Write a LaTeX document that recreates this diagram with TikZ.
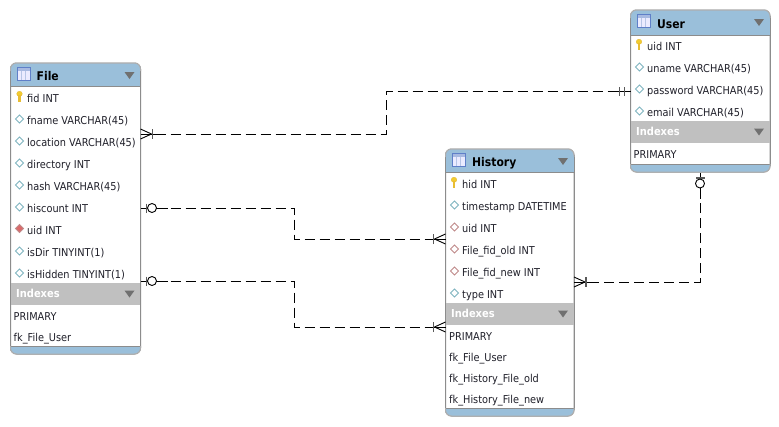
\documentclass[tikz,border=0pt]{standalone}
\usepackage{fontspec}
\setmainfont[FakeStretch=0.9]{DejaVu Sans}
\definecolor{hdr}{HTML}{9ABFDA}
\definecolor{edge}{HTML}{8C8C8C}
\definecolor{band}{HTML}{C0C0C0}
\definecolor{tri}{HTML}{707070}
\definecolor{txt}{HTML}{20202A}
\definecolor{iconblue}{HTML}{5F7FC8}
\definecolor{teal}{HTML}{7FB4C0}
\definecolor{rosy}{HTML}{C08A8A}
\definecolor{redfill}{HTML}{DB6A6A}
\definecolor{keyy}{HTML}{F2CC30}
\tikzset{
  x=1pt,y=-1pt,
  tablebody/.style={draw=edge,fill=white,line width=1pt,rounded corners=6pt,inner sep=0pt,outer sep=0pt},
  rowtext/.style={anchor=base west,inner sep=0pt,text=txt,font=\fontsize{10.85}{12}\selectfont},
  titletext/.style={anchor=base west,inner sep=0pt,text=black,font=\fontsize{12}{14}\selectfont\bfseries},
  indextext/.style={anchor=base west,inner sep=0pt,text=white,font=\fontsize{11}{13}\selectfont\bfseries},
  conn/.style={draw=black,line width=0.9pt,dash pattern=on 10pt off 5pt},
  sym/.style={draw=black,line width=0.9pt},
  bar/.style={draw=black!65,line width=1.3pt},
  crowfoot/.pic={
    \draw[sym] (0,-5)--(11,0)--(0,5);
    \draw[sym] (0,0)--(20,0);
    \draw[bar] (12,-5)--(12,5);
  },
  onetwo/.pic={
    \draw[sym] (0,0)--(18,0);
    \draw[bar] (6,-4.5)--(6,4.5);
    \draw[bar] (11,-4.5)--(11,4.5);
  },
  zeroone/.pic={
    \draw[sym] (2,0)--(27,0);
    \draw[bar] (6,-4.5)--(6,4.5);
    \draw[sym,fill=white] (11.5,0) circle (4.5);
  },
  keyicon/.pic={
    \fill[keyy,draw=keyy!70!brown,line width=0.3pt] (0,-3.2) ellipse (2.8 and 2.6);
    \fill[keyy!80!brown] (-1.2,-2)--(1.2,-2)--(1.2,4.5)--(-1.2,4.5)--cycle;
  },
  plaindiamond/.pic={\draw[teal,fill=white,line width=0.8pt] (-4,0)--(0,-4)--(4,0)--(0,4)--cycle;},
  fkdiamond/.pic={\draw[rosy,fill=white,line width=0.8pt] (-4,0)--(0,-4)--(4,0)--(0,4)--cycle;},
  fkfilled/.pic={\draw[rosy,fill=redfill,line width=0.8pt] (-4,0)--(0,-4)--(4,0)--(0,4)--cycle;},
  tableicon/.pic={
    \draw[iconblue,fill=blue!8,line width=0.9pt] (0,0) rectangle (13,13);
    \fill[iconblue!55] (0.5,0.5) rectangle (12.5,3);
    \draw[iconblue!45,line width=0.6pt] (4.3,3)--(4.3,12.5) (8.6,3)--(8.6,12.5);
  },
  downtri/.pic={\fill[tri] (-5,-3.5)--(5,-3.5)--(0,3.5)--cycle;},
}
% name, x0, x1, top, header bottom, index top, index bottom, strip top, bottom
\newcommand{\erbox}[9]{%
  \node[tablebody,minimum width=#3pt-#2pt,minimum height=#9pt-#4pt,anchor=north west] (#1) at (#2,#4) {};
  \fill[hdr] (#2,#5) [rounded corners=6pt] -- (#2,#4) -- (#3,#4) [sharp corners] -- (#3,#5) -- cycle;
  \fill[hdr] (#2,#8) [rounded corners=6pt] -- (#2,#9) -- (#3,#9) [sharp corners] -- (#3,#8) -- cycle;
  \fill[band] (#2,#6) rectangle (#3,#7);
  \draw[edge,line width=1pt] (#2,#5)--(#3,#5) (#2,#8)--(#3,#8) (#2,#4+6)--(#2,#9-6) (#3,#4+6)--(#3,#9-6);
  \draw[edge!70,line width=1pt,rounded corners=6pt] (#2,#4+8)--(#2,#4)--(#3,#4)--(#3,#4+8);
  \draw[edge!70,line width=1pt,rounded corners=6pt] (#2,#9-8)--(#2,#9)--(#3,#9)--(#3,#9-8);
  \pic at (#2+6.5,#4+4.5) {tableicon};
  \pic at (#3-11,#4+12.5) {downtri};
  \pic at (#3-11,{(#6+#7)/2}) {downtri};
  \node[indextext] (#1-indexes) at (#2+5.5,#7-7.5) {Indexes};
}
\begin{document}
\begin{tikzpicture}
\useasboundingbox (0,0) rectangle (779,426);
\fill[white] (0,0) rectangle (779,426);

%% File
\erbox{file}{10.5}{140.5}{63}{86}{283}{305}{346}{354}
\node[titletext] (file-title) at (36.5,80) {File};
\pic at (19.5,97) {keyicon};
\pic at (19.5,119) {plaindiamond};
\pic at (19.5,141) {plaindiamond};
\pic at (19.5,163) {plaindiamond};
\pic at (19.5,185) {plaindiamond};
\pic at (19.5,207) {plaindiamond};
\pic at (19.5,228.5) {fkfilled};
\pic at (19.5,251) {plaindiamond};
\pic at (19.5,273) {plaindiamond};
\node[rowtext] (f1) at (27,102) {fid INT};
\node[rowtext] (f2) at (27,124) {fname VARCHAR(45)};
\node[rowtext] (f3) at (27,146) {location VARCHAR(45)};
\node[rowtext] (f4) at (27,168) {directory INT};
\node[rowtext] (f5) at (27,190) {hash VARCHAR(45)};
\node[rowtext] (f6) at (27,212) {hiscount INT};
\node[rowtext] (f7) at (27,234) {uid INT};
\node[rowtext] (f8) at (27,256) {isDir TINYINT(1)};
\node[rowtext] (f9) at (27,278) {isHidden TINYINT(1)};
\node[rowtext] (fi1) at (13.5,320) {PRIMARY};
\node[rowtext] (fi2) at (13.5,341) {fk\_File\_User};

%% History
\erbox{hist}{445.5}{574}{149}{172}{303}{325}{408}{416}
\node[titletext] (hist-title) at (472,166) {History};
\pic at (454,183) {keyicon};
\pic at (454.5,205) {plaindiamond};
\pic at (454.5,227) {fkdiamond};
\pic at (454.5,249) {fkdiamond};
\pic at (454.5,271) {fkdiamond};
\pic at (454.5,293) {plaindiamond};
\node[rowtext] (h1) at (462,188) {hid INT};
\node[rowtext] (h2) at (462,210) {timestamp DATETIME};
\node[rowtext] (h3) at (462,232) {uid INT};
\node[rowtext] (h4) at (462,254) {File\_fid\_old INT};
\node[rowtext] (h5) at (462,276) {File\_fid\_new INT};
\node[rowtext] (h6) at (462,298) {type INT};
\node[rowtext] (hi1) at (449,340) {PRIMARY};
\node[rowtext] (hi2) at (449,361) {fk\_File\_User};
\node[rowtext] (hi3) at (449,382) {fk\_History\_File\_old};
\node[rowtext] (hi4) at (449,403) {fk\_History\_File\_new};

%% User
\erbox{user}{630.5}{770}{10}{35}{121}{143}{164}{172}
\node[titletext] (user-title) at (657,28) {User};
\pic at (639,45) {keyicon};
\pic at (639.5,67) {plaindiamond};
\pic at (639.5,89) {plaindiamond};
\pic at (639.5,111) {plaindiamond};
\node[rowtext] (u1) at (647,50) {uid INT};
\node[rowtext] (u2) at (647,72) {uname VARCHAR(45)};
\node[rowtext] (u3) at (647,94) {password VARCHAR(45)};
\node[rowtext] (u4) at (647,116) {email VARCHAR(45)};
\node[rowtext] (ui1) at (633.5,158) {PRIMARY};

%% connector ends
\coordinate (a1) at (file.east |- 0,134);
\coordinate (a2) at (user.west |- 0,91);
\coordinate (b1) at (file.east |- 0,208);
\coordinate (b2) at (hist.west |- 0,239);
\coordinate (c1) at (file.east |- 0,281);
\coordinate (c2) at (hist.west |- 0,327);
\coordinate (d1) at (hist.east |- 0,282);
\coordinate (d2) at (user.south -| 700,0);

\draw[conn] (a1) -- (386,134) -- (386,91) -- (a2);
\draw[conn] (b1) -- (294,208) -- (294,239) -- (b2);
\draw[conn] (c1) -- (294,281) -- (294,327) -- (c2);
\draw[conn] (d1) -- (700,282) -- (d2);

\pic at (a1) {crowfoot};
\pic[rotate=180] at (a2) {onetwo};
\pic at (b1) {zeroone};
\pic[rotate=180] at (b2) {crowfoot};
\pic at (c1) {zeroone};
\pic[rotate=180] at (c2) {crowfoot};
\pic at (d1) {crowfoot};
\pic[rotate=-90] at (d2) {zeroone};
\end{tikzpicture}
\end{document}
